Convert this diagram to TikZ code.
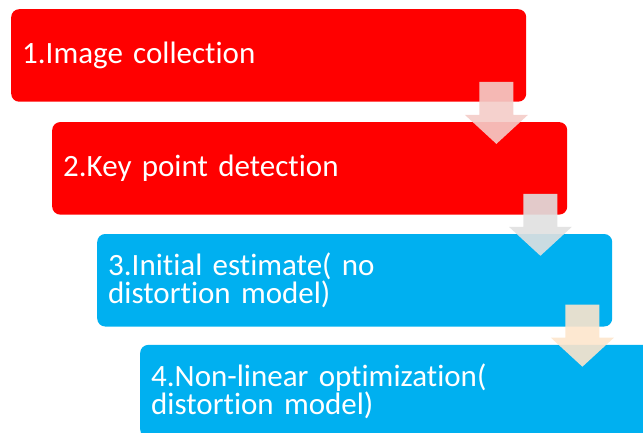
\documentclass[tikz,border=0pt]{standalone}
\usepackage{fontspec}
\setmainfont[Ligatures=NoCommon, WordSpace=0.8]{Carlito}
\usetikzlibrary{positioning,calc}

\definecolor{stepred}{HTML}{FF0000}
\definecolor{stepblue}{HTML}{00B0F0}
\definecolor{arrowpink}{HTML}{F4CCC8}
\definecolor{arrowgray}{HTML}{E0E0E0}
\definecolor{arrowpeach}{HTML}{FDE5CC}

\tikzset{
    stepbox/.style={rectangle, rounded corners=8bp, fill=#1, text=white,
        anchor=north west, minimum height=92.5bp, text width=493bp,
        inner xsep=11bp, inner ysep=0pt, align=left,
        font=\fontsize{31bp}{28.5bp}\selectfont},
    pics/downarrow/.style={code={
        \fill[#1, fill opacity=0.9] (-17,0) -- (17,0) -- (17,-33) -- (31.5,-33)
            -- (0,-62) -- (-31.5,-33) -- (-17,-33) -- cycle;}}
}

\begin{document}
\begin{tikzpicture}[x=1bp, y=1bp]
    \useasboundingbox (0,0) rectangle (643,432);
    \clip (0,0) rectangle (643,432);

    % steps
    \node[stepbox=stepred] (s1) at (11,423) {1.Image collection};
    \node[stepbox=stepred, below right=20bp and 41bp of s1.south west] (s2) {2.Key point detection};
    \node[stepbox=stepblue, below right=19bp and 45bp of s2.south west] (s3) {3.Initial estimate( no\\distortion model)};
    \node[stepbox=stepblue, below right=18bp and 43bp of s3.south west] (s4) {4.Non-linear optimization(\\distortion model)};

    % arrows between steps
    \pic at ($(s1.south east)+(-30,20)$) {downarrow=arrowpink};
    \pic at ($(s2.south east)+(-27,21)$) {downarrow=arrowgray};
    \pic at ($(s3.south east)+(-30,22)$) {downarrow=arrowpeach};
\end{tikzpicture}
\end{document}
